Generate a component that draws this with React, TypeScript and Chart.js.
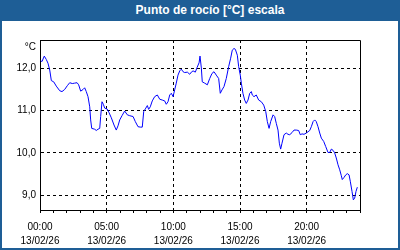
import React, { useEffect, useRef } from "react";
import { Chart, registerables } from "chart.js";

Chart.register(...registerables);

const TITLE = "Punto de rocío [°C] escala";
const UNIT = "°C";
const DATE_LABEL = "13/02/26";
const X_LABEL_HOURS = [0, 5, 10, 15, 20];
const X_TICK_HOURS = [0, 1, 2, 3, 4, 5, 6, 7, 8, 9, 10, 11, 12, 13, 14, 15, 16, 17, 18, 19, 20, 21, 22, 23, 24];
const Y_TICKS = [9, 10, 11, 12];

const hours = [
  0.05, 0.15, 0.32, 0.47, 0.6, 0.73, 0.85, 1.03, 1.22, 1.48, 1.65, 1.85, 2.05, 2.23, 2.42, 2.6, 2.78, 2.9,
  3.05, 3.23, 3.35, 3.47, 3.6, 3.73, 3.8, 3.88, 4.1, 4.22, 4.35, 4.48, 4.55, 4.65, 4.75, 4.85, 5.03, 5.18,
  5.35, 5.55, 5.72, 5.85, 5.98, 6.15, 6.35, 6.55, 6.73, 6.98, 7.15, 7.35, 7.52, 7.67, 7.78, 7.9, 8.05, 8.15,
  8.27, 8.42, 8.6, 8.8, 8.98, 9.17, 9.35, 9.47, 9.6, 9.73, 9.85, 9.98, 10.1, 10.22, 10.35, 10.48, 10.6, 10.73,
  10.85, 11.05, 11.23, 11.35, 11.48, 11.65, 11.78, 11.93, 12.0, 12.1, 12.17, 12.35, 12.55, 12.73, 12.9, 13.05,
  13.22, 13.4, 13.52, 13.65, 13.8, 13.97, 14.15, 14.3, 14.42, 14.55, 14.65, 14.8, 14.9, 15.02, 15.1, 15.22,
  15.35, 15.47, 15.6, 15.73, 15.85, 15.92, 16.05, 16.22, 16.4, 16.6, 16.78, 16.93, 17.05, 17.18, 17.3, 17.48,
  17.6, 17.72, 17.85, 17.95, 18.05, 18.15, 18.3, 18.47, 18.6, 18.73, 18.9, 19.05, 19.22, 19.4, 19.52, 19.65,
  19.8, 19.97, 20.1, 20.23, 20.35, 20.48, 20.6, 20.72, 20.85, 20.98, 21.1, 21.28, 21.43, 21.6, 21.73, 21.85,
  21.98, 22.1, 22.22, 22.35, 22.48, 22.6, 22.67, 22.8, 22.93, 23.05, 23.18, 23.27, 23.4, 23.5, 23.6, 23.7, 23.8,
];

const dewPoint = [
  12.18, 12.16, 12.29, 12.21, 12.12, 11.96, 11.71, 11.68, 11.58, 11.47, 11.45, 11.5, 11.59, 11.66, 11.64, 11.65, 11.66, 11.61,
  11.46, 11.5, 11.54, 11.45, 11.33, 11.09, 10.78, 10.58, 10.56, 10.53, 10.56, 10.58, 10.86, 11.21, 11.15, 11.06, 11.04, 10.95,
  10.83, 10.66, 10.54, 10.64, 10.78, 10.88, 10.99, 10.9, 10.88, 10.86, 10.74, 10.62, 10.61, 10.61, 10.98, 11.04, 11.12, 11.03,
  11.09, 11.23, 11.33, 11.37, 11.27, 11.25, 11.23, 11.15, 11.21, 11.37, 11.41, 11.33, 11.49, 11.65, 11.84, 11.94, 11.98, 11.92,
  11.9, 11.91, 11.86, 11.91, 11.94, 11.91, 12.02, 12.13, 12.29, 12.01, 11.68, 11.65, 11.61, 11.76, 11.88, 11.92,
  11.84, 11.76, 11.41, 11.49, 11.57, 11.76, 12.04, 12.24, 12.43, 12.47, 12.45, 12.31, 12.04, 11.84, 11.65, 11.41,
  11.25, 11.17, 11.25, 11.41, 11.45, 11.37, 11.33, 11.37, 11.25, 11.21, 11.13, 10.98, 10.74, 10.58, 10.74, 10.9,
  10.86, 10.7, 10.54, 10.23, 10.09, 10.23, 10.43, 10.47, 10.44, 10.43, 10.48, 10.54, 10.54, 10.53, 10.43, 10.45,
  10.44, 10.47, 10.5, 10.53, 10.62, 10.74, 10.78, 10.74, 10.62, 10.47, 10.35, 10.27, 10.15, 10.01, 10.01, 10.09,
  10.06, 10.0, 9.88, 9.72, 9.6, 9.46, 9.37, 9.42, 9.48, 9.51, 9.48, 9.33, 9.09, 8.89, 8.93, 9.09, 9.19,
];

const BLUE = "#1e5e96";
const FONT = "'Liberation Sans', Arial, sans-serif";

const fmtHour = (h: number) => String(h).padStart(2, "0") + ":00";

export default function App() {
  const ref = useRef<HTMLCanvasElement>(null);

  useEffect(() => {
    const canvas = ref.current;
    if (!canvas) return;
    Chart.defaults.font.family = FONT;

    const framePlugin = {
      id: "frame",
      afterDraw(chart: any) {
        const { ctx, chartArea: a } = chart;
        ctx.save();
        ctx.strokeStyle = "#000";
        ctx.lineWidth = 1;
        ctx.setLineDash([]);
        ctx.beginPath();
        ctx.moveTo(a.left, Math.round(a.top) + 0.5);
        ctx.lineTo(Math.round(a.right) + 0.5, Math.round(a.top) + 0.5);
        ctx.lineTo(Math.round(a.right) + 0.5, a.bottom);
        ctx.stroke();
        ctx.fillStyle = "#000";
        ctx.font = "10px " + FONT;
        ctx.textAlign = "right";
        ctx.textBaseline = "middle";
        ctx.fillText(UNIT, a.left - 4, a.top + 7);
        ctx.restore();
      },
    };

    const chart = new Chart(canvas, {
      type: "line",
      data: {
        datasets: [
          {
            data: hours.map((h, i) => ({ x: h, y: dewPoint[i] })),
            borderColor: "#0000ff",
            borderWidth: 1,
            pointRadius: 0,
            tension: 0,
            fill: false,
          },
        ],
      },
      options: {
        animation: false,
        responsive: false,
        maintainAspectRatio: false,
        layout: { padding: { top: 40, right: 40, left: 0, bottom: 0 } },
        plugins: {
          legend: { display: false },
          tooltip: { enabled: false },
          title: { display: false },
        },
        scales: {
          x: {
            type: "linear",
            min: 0,
            max: 24,
            afterBuildTicks: (s: any) => {
              s.ticks = X_TICK_HOURS.map((v) => ({ value: v }));
            },
            afterFit: (s: any) => {
              s.height = 40;
            },
            ticks: {
              autoSkip: false,
              maxRotation: 0,
              padding: 7,
              color: "#000",
              font: { size: 10, lineHeight: 1.4 },
              callback: (v: any) => (X_LABEL_HOURS.includes(Number(v)) ? [fmtHour(Number(v)), DATE_LABEL] : ""),
            },
            grid: {
              color: (c: any) =>
                c.tick && c.tick.value % 5 === 0 && c.tick.value > 0 && c.tick.value < 24 ? "#000" : "rgba(0,0,0,0)",
              tickColor: "#000",
              tickLength: 3,
              tickBorderDash: [],
              lineWidth: 1,
            },
            border: { display: true, color: "#000", width: 1, dash: [3, 3] },
          },
          y: {
            min: 8.65,
            max: 12.67,
            afterBuildTicks: (s: any) => {
              s.ticks = Y_TICKS.map((v) => ({ value: v }));
            },
            afterFit: (s: any) => {
              s.width = 40;
            },
            ticks: {
              padding: 4,
              color: "#000",
              font: { size: 10 },
              callback: (v: any) => Number(v).toFixed(1).replace(".", ","),
            },
            grid: { color: "#000", drawTicks: false, lineWidth: 1 },
            border: { display: true, color: "#000", width: 1, dash: [3, 3] },
          },
        },
      } as any,
      plugins: [framePlugin],
    });

    return () => chart.destroy();
  }, []);

  return (
    <div
      style={{
        position: "fixed",
        left: 0,
        top: 0,
        width: 400,
        height: 250,
        background: "#ffffff",
        overflow: "hidden",
      }}
    >
      <canvas ref={ref} width={400} height={250} style={{ position: "absolute", left: 0, top: 0, display: "block" }} />
      <div
        style={{
          position: "absolute",
          left: 0,
          top: 0,
          width: 400,
          height: 21,
          background: BLUE,
          color: "#fff",
          fontFamily: FONT,
          fontWeight: "bold",
          fontSize: 12,
          lineHeight: "21px",
          textAlign: "center",
          paddingLeft: 20,
          boxSizing: "border-box",
        }}
      >
        {TITLE}
      </div>
      <div
        style={{
          position: "absolute",
          left: 0,
          top: 0,
          width: 400,
          height: 250,
          border: `2px solid ${BLUE}`,
          boxSizing: "border-box",
          pointerEvents: "none",
        }}
      />
    </div>
  );
}
